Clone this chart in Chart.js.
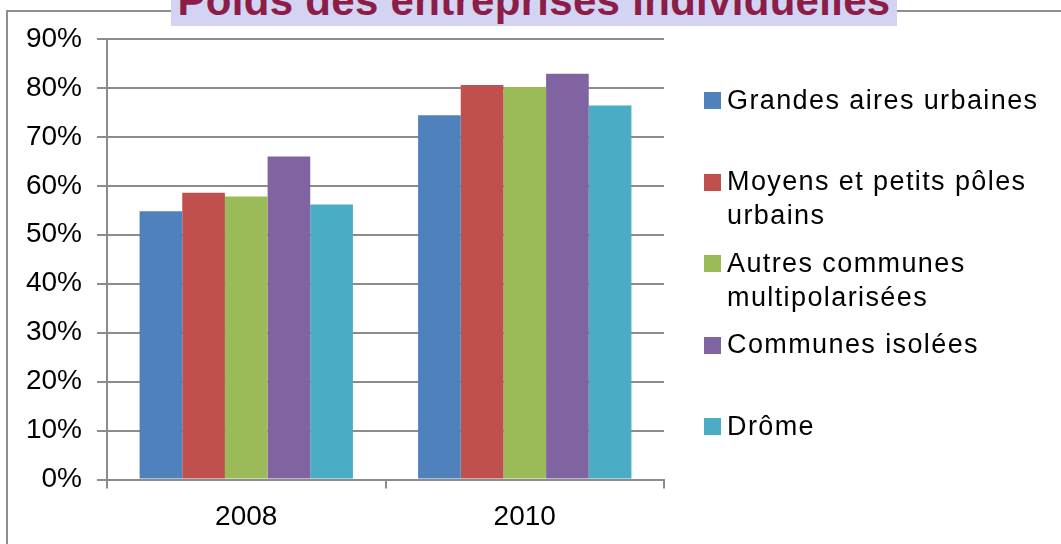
<!DOCTYPE html>
<html>
<head>
<meta charset="utf-8">
<script src="https://cdn.jsdelivr.net/npm/chart.js@4"></script>
<style>
  html, body { margin: 0; padding: 0; background: #fff; }
  #wrap { position: relative; width: 1061px; height: 544px; overflow: hidden; font-family: "Liberation Sans", Arial, sans-serif; }
  #frame { position: absolute; left: 6px; top: 10px; width: 1200px; height: 700px; border: 2px solid #8f8f8f; box-sizing: border-box; }
  #title { position: absolute; left: 171px; top: 0; width: 726px; height: 26px; overflow: hidden; background: #d3d3f3; }
  #title span { position: absolute; left: 0; right: 0; top: -20px; line-height: 42px; text-align: center;
    font-size: 42px; font-weight: bold; color: #8c1d46; letter-spacing: 0.3px; white-space: nowrap; }
  canvas { position: absolute; left: 0; top: 0; }
  .lg { position: absolute; left: 704px; width: 357px; }
  .lg i { position: absolute; left: 0; width: 17px; height: 17px; }
  .lg span { position: absolute; left: 23px; width: 330px; font-size: 27px; line-height: 34px; letter-spacing: 1.4px; color: #000; }
</style>
</head>
<body>
<div id="wrap">
  <div id="frame"></div>
  <div id="title"><span>Poids des entreprises individuelles</span></div>
  <canvas id="c" width="1061" height="544"></canvas>
  <div id="legend"></div>
</div>
<script>
const categories = ["2008", "2010"];
const seriesNames = ["Grandes aires urbaines", "Moyens et petits pôles urbains", "Autres communes multipolarisées", "Communes isolées", "Drôme"];
const grandesAires = [54.8, 74.4];
const moyensPetits = [58.6, 80.6];
const autresCommunes = [57.8, 80.2];
const communesIsolees = [66.0, 82.9];
const drome = [56.2, 76.4];
const yTickValues = [0, 10, 20, 30, 40, 50, 60, 70, 80, 90];
const colors = ["#4f81bd", "#c0504d", "#9bbb59", "#8064a2", "#4bacc6"];

const values = [grandesAires, moyensPetits, autresCommunes, communesIsolees, drome];
const gridColor = "#8c8c8c";
const tickFont = { family: "'Liberation Sans', Arial, sans-serif", size: 28 };

const chart = new Chart(document.getElementById("c"), {
  type: "bar",
  data: {
    labels: categories,
    datasets: seriesNames.map((name, i) => ({
      label: name,
      data: values[i],
      backgroundColor: colors[i],
      borderWidth: 0,
      categoryPercentage: 0.766,
      barPercentage: 1.0
    }))
  },
  options: {
    responsive: false,
    animation: false,
    layout: { padding: { left: 0, top: 39, right: 397, bottom: 0 } },
    plugins: { legend: { display: false }, tooltip: { enabled: false } },
    scales: {
      x: {
        offset: true,
        grid: { offset: true, drawOnChartArea: false, drawTicks: true, tickLength: 9, color: gridColor, lineWidth: 2 },
        border: { display: true, color: gridColor, width: 2 },
        ticks: { font: tickFont, color: "#000", padding: 12 },
        afterFit(s) { s.height = 64.5; }
      },
      y: {
        min: 0,
        max: 90,
        afterBuildTicks(s) { s.ticks = yTickValues.map(v => ({ value: v })); },
        grid: { color: gridColor, lineWidth: 2, tickLength: 10 },
        border: { display: true, color: gridColor, width: 2 },
        ticks: { font: tickFont, color: "#000", padding: 15, callback: v => v + "%" },
        afterFit(s) { s.width = 107; }
      }
    }
  }
});

// legend built from the datasets
const legend = document.getElementById("legend");
chart.data.datasets.forEach((ds, i) => {
  const baseline = 109 + i * 81.5;
  const item = document.createElement("div");
  item.className = "lg";
  item.style.top = (baseline - 17) + "px";
  const sq = document.createElement("i");
  sq.style.background = ds.backgroundColor;
  const txt = document.createElement("span");
  txt.textContent = ds.label;
  txt.style.top = (17 - 26.3) + "px";
  item.appendChild(sq);
  item.appendChild(txt);
  legend.appendChild(item);
});
</script>
</body>
</html>
